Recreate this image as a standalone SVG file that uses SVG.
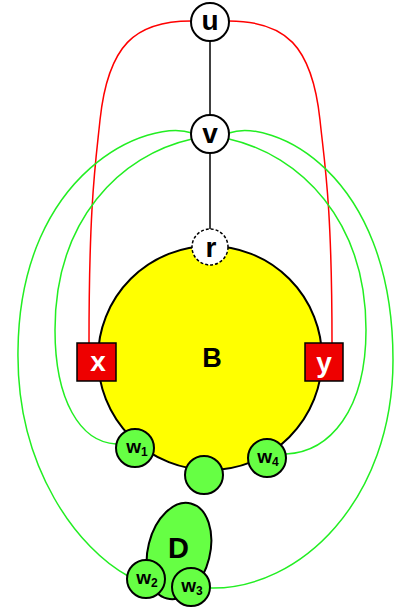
<svg xmlns="http://www.w3.org/2000/svg" width="396" height="610" viewBox="0 0 396 610">
<style>
.n{stroke:#000;stroke-width:2}
.w{fill:#fff}
.g{fill:#66ff44}
.lbl{font-family:"Liberation Sans",Arial,sans-serif;font-weight:bold;text-anchor:middle;fill:#000}
.big{font-size:28px}
.wl{font-size:19px}
.sub{font-size:12px}
.red{fill:none;stroke:#ff0000;stroke-width:1.5}
.grn{fill:none;stroke:#22ee22;stroke-width:1.5}
.blk{stroke:#000;stroke-width:1.5}
</style>
<g id="connectors">
<path class="red" d="M191,21 C135,21 108,45 100,120 C96,160 89,200 89,343"/>
<path class="red" d="M229,21 C285,21 312,45 320,120 C324,160 332,200 332,343"/>
<path class="grn" d="M192,133 C150,118 20,170 18,350 C16,470 80,550 128,576"/>
<path class="grn" d="M192,139 C120,155 55,220 55,330 C55,400 80,442 116,444"/>
<path class="grn" d="M229,139 C300,155 366,220 366,330 C366,410 330,452 286,454"/>
<path class="grn" d="M229,133 C270,118 393,170 393,360 C393,500 300,590 210,588"/>
<line class="blk" x1="210" y1="41" x2="210" y2="115"/>
<line class="blk" x1="210" y1="153" x2="210" y2="229"/>
</g>
<g id="B">
<circle class="n" cx="210" cy="358" r="112" fill="#ffff00"/>
<text class="lbl" x="212" y="367" font-size="27">B</text>
</g>
<g id="u">
<circle class="n w" cx="210" cy="22" r="19"/>
<text class="lbl big" x="210" y="30">u</text>
</g>
<g id="v">
<circle class="n w" cx="210" cy="134" r="19"/>
<text class="lbl big" x="210" y="143">v</text>
</g>
<g id="r">
<circle class="w" cx="210" cy="247" r="18" stroke="#000" stroke-width="1.5" stroke-dasharray="3,2"/>
<text class="lbl big" x="211" y="257">r</text>
</g>
<g id="x">
<rect x="77" y="343" width="39" height="38" fill="#ee0000" stroke="#000" stroke-width="1.5"/>
<text class="lbl big" x="98" y="371" style="fill:#fff">x</text>
</g>
<g id="y">
<rect x="305" y="343" width="38" height="38" fill="#ee0000" stroke="#000" stroke-width="1.5"/>
<text class="lbl big" x="324" y="372" style="fill:#fff">y</text>
</g>
<g id="w1">
<circle class="n g" cx="135" cy="448" r="19"/>
<text class="lbl wl" x="137" y="453">w<tspan class="sub" dy="3">1</tspan></text>
</g>
<g id="w4">
<circle class="n g" cx="267" cy="458" r="19"/>
<text class="lbl wl" x="268" y="463">w<tspan class="sub" dy="3">4</tspan></text>
</g>
<g id="mid">
<circle class="n g" cx="204" cy="475" r="19"/>
</g>
<g id="D">
<ellipse class="n g" cx="179" cy="551" rx="31" ry="49" transform="rotate(14 179 551)"/>
<text class="lbl" x="178.5" y="558" font-size="29">D</text>
</g>
<g id="w2">
<circle class="n g" cx="146" cy="579" r="19"/>
<text class="lbl wl" x="147" y="584">w<tspan class="sub" dy="3">2</tspan></text>
</g>
<g id="w3">
<circle class="n g" cx="191" cy="587" r="19"/>
<text class="lbl wl" x="192" y="592">w<tspan class="sub" dy="3">3</tspan></text>
</g>
</svg>
